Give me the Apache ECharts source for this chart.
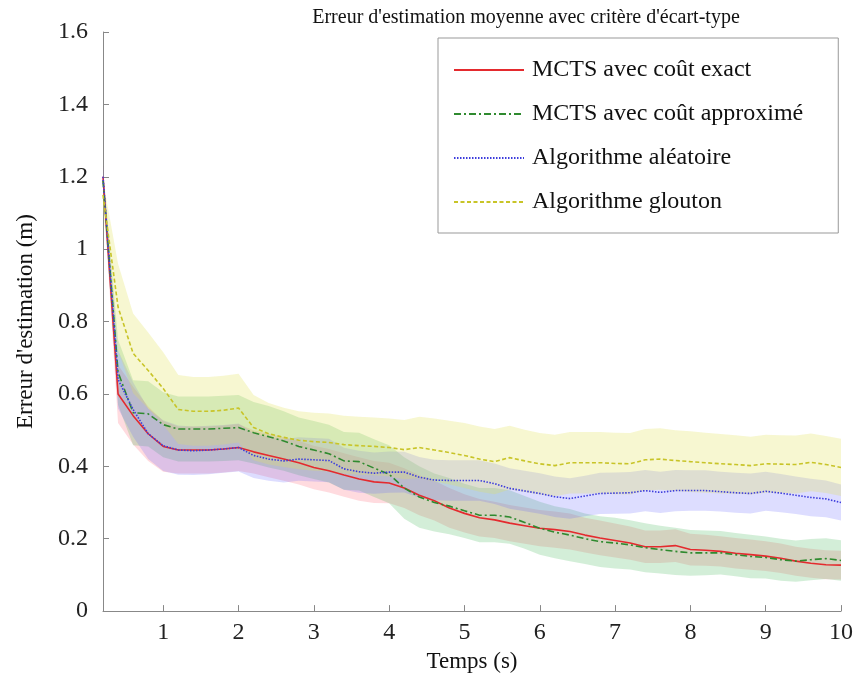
<!DOCTYPE html>
<html>
<head>
<meta charset="utf-8">
<script src="https://cdn.jsdelivr.net/npm/echarts@6/dist/echarts.min.js"></script>
<style>html,body{margin:0;padding:0;background:#fff}#c{width:856px;height:678px}</style>
</head>
<body>
<div id="c"></div>
<script>
const times = [0.2,0.4,0.6,0.8,1.0,1.2,1.4,1.6,1.8,2.0,2.2,2.4,2.6,2.8,3.0,3.2,3.4,3.6,3.8,4.0,4.2,4.4,4.6,4.8,5.0,5.2,5.4,5.6,5.8,6.0,6.2,6.4,6.6,6.8,7.0,7.2,7.4,7.6,7.8,8.0,8.2,8.4,8.6,8.8,9.0,9.2,9.4,9.6,9.8,10.0];
const xTicks = [1,2,3,4,5,6,7,8,9,10];
const names = ["MCTS avec coût exact","MCTS avec coût approximé","Algorithme aléatoire","Algorithme glouton"];

const meanExact = [1.20,0.60,0.54,0.49,0.455,0.445,0.445,0.445,0.448,0.452,0.44,0.43,0.42,0.41,0.397,0.388,0.376,0.365,0.357,0.354,0.34,0.32,0.305,0.285,0.27,0.258,0.252,0.243,0.236,0.229,0.225,0.22,0.21,0.202,0.195,0.188,0.178,0.178,0.181,0.17,0.168,0.165,0.16,0.156,0.152,0.146,0.138,0.132,0.128,0.127];
const meanApprox = [1.19,0.66,0.548,0.545,0.515,0.503,0.503,0.503,0.505,0.507,0.493,0.482,0.47,0.455,0.445,0.435,0.415,0.413,0.395,0.378,0.34,0.315,0.30,0.29,0.277,0.265,0.265,0.26,0.245,0.229,0.218,0.21,0.20,0.192,0.188,0.183,0.175,0.17,0.165,0.161,0.161,0.161,0.156,0.151,0.148,0.142,0.138,0.142,0.145,0.14];
const meanRandom = [1.20,0.64,0.557,0.49,0.457,0.445,0.443,0.445,0.448,0.452,0.43,0.42,0.415,0.42,0.418,0.416,0.393,0.385,0.381,0.384,0.384,0.37,0.362,0.361,0.361,0.361,0.352,0.339,0.332,0.325,0.316,0.311,0.318,0.325,0.326,0.327,0.333,0.328,0.333,0.333,0.333,0.33,0.327,0.325,0.331,0.326,0.32,0.314,0.31,0.30];
const meanGreedy = [1.15,0.84,0.712,0.665,0.615,0.557,0.552,0.552,0.555,0.561,0.507,0.49,0.48,0.472,0.468,0.466,0.46,0.457,0.455,0.452,0.446,0.452,0.445,0.438,0.43,0.42,0.413,0.424,0.415,0.407,0.402,0.41,0.41,0.41,0.408,0.407,0.418,0.42,0.416,0.413,0.41,0.407,0.405,0.402,0.407,0.406,0.405,0.411,0.405,0.397];

const stdExact = [0.03,0.08,0.08,0.075,0.07,0.065,0.065,0.065,0.065,0.065,0.06,0.06,0.06,0.06,0.06,0.06,0.06,0.06,0.058,0.056,0.055,0.055,0.055,0.055,0.053,0.052,0.05,0.05,0.05,0.05,0.05,0.05,0.048,0.048,0.047,0.046,0.045,0.045,0.045,0.044,0.043,0.042,0.042,0.042,0.041,0.041,0.04,0.04,0.04,0.04];
const stdApprox = [0.03,0.09,0.09,0.09,0.09,0.09,0.09,0.09,0.09,0.09,0.085,0.085,0.082,0.08,0.08,0.08,0.08,0.08,0.08,0.08,0.085,0.085,0.08,0.078,0.075,0.075,0.075,0.074,0.073,0.073,0.072,0.072,0.07,0.07,0.07,0.068,0.068,0.066,0.065,0.063,0.062,0.06,0.06,0.06,0.058,0.058,0.057,0.057,0.056,0.056];
const stdRandom = [0.03,0.08,0.075,0.07,0.07,0.068,0.067,0.067,0.066,0.066,0.062,0.06,0.06,0.06,0.06,0.06,0.058,0.058,0.057,0.057,0.056,0.056,0.056,0.056,0.056,0.056,0.056,0.056,0.056,0.056,0.056,0.056,0.056,0.057,0.057,0.057,0.057,0.057,0.057,0.056,0.056,0.055,0.055,0.055,0.054,0.053,0.052,0.052,0.051,0.05];
const stdGreedy = [0.04,0.12,0.11,0.105,0.1,0.095,0.095,0.095,0.095,0.095,0.09,0.085,0.082,0.08,0.08,0.08,0.08,0.08,0.08,0.08,0.082,0.085,0.087,0.088,0.09,0.09,0.09,0.088,0.086,0.085,0.085,0.085,0.085,0.085,0.085,0.085,0.085,0.085,0.084,0.084,0.083,0.082,0.081,0.08,0.08,0.08,0.08,0.08,0.079,0.079];

const means = [meanExact, meanApprox, meanRandom, meanGreedy];
const stds = [stdExact, stdApprox, stdRandom, stdGreedy];
const lineColors = ['#e42a2e','#2f8a2f','#3c3cdc','#c8c428'];
const bandColors = ['rgba(255,90,110,0.22)','rgba(70,185,90,0.24)','rgba(100,100,255,0.22)','rgba(225,225,90,0.28)'];
const lineTypes = ['solid',[7,3,2,3],[1.5,1.5],[4,2.5]];

const series = [];
means.forEach((m, i) => {
  const sd = stds[i];
  series.push({
    type: 'custom', name: 'band' + i, silent: true, z: 1, clip: true,
    data: [[times[0], m[0]]],
    encode: {x: 0, y: 1},
    renderItem: function (params, api) {
      const pts = [];
      for (let k = 0; k < times.length; k++) pts.push(api.coord([times[k], m[k] + sd[k]]));
      for (let k = times.length - 1; k >= 0; k--) pts.push(api.coord([times[k], m[k] - sd[k]]));
      return {type: 'polygon', shape: {points: pts}, style: {fill: bandColors[i]}};
    }
  });
});
means.forEach((m, i) => {
  series.push({
    type: 'line', name: names[i], symbol: 'none', z: 5,
    lineStyle: {color: lineColors[i], width: 1.6, type: lineTypes[i]},
    itemStyle: {color: lineColors[i]},
    data: times.map((t, k) => [t, m[k]])
  });
});

const font = 'Liberation Serif';
const chart = echarts.init(document.getElementById('c'));
chart.setOption({
  animation: false,
  backgroundColor: '#fff',
  title: {
    text: "Erreur d'estimation moyenne avec critère d'écart-type",
    left: 521, top: 3, textAlign: 'center',
    textStyle: {fontFamily: font, fontSize: 20, fontWeight: 'normal', color: '#111'}
  },
  legend: {
    data: names, orient: 'vertical', left: 438, top: 38,
    itemWidth: 70, itemHeight: 14, itemGap: 20,
    padding: [20, 35, 19, 15],
    itemStyle: {opacity: 0},
    borderColor: '#999', borderWidth: 1, backgroundColor: '#fff',
    textStyle: {fontFamily: font, fontSize: 24, color: '#111', lineHeight: 24, padding: [0,0,0,3]}
  },
  grid: {left: 103, right: 15, top: 32, bottom: 61, containLabel: false},
  xAxis: {
    type: 'value', min: 0.2, max: 10,
    name: 'Temps (s)', nameLocation: 'middle', nameGap: 31,
    nameTextStyle: {fontFamily: font, fontSize: 23, color: '#111'},
    axisLine: {lineStyle: {color: '#888'}},
    axisTick: {inside: true, length: 6, lineStyle: {color: '#888'}, customValues: xTicks},
    axisLabel: {fontFamily: font, fontSize: 24, color: '#222', margin: 10, customValues: xTicks},
    splitLine: {show: false}
  },
  yAxis: {
    type: 'value', min: 0, max: 1.6, interval: 0.2,
    name: "Erreur d'estimation (m)", nameLocation: 'middle', nameGap: 66,
    nameTextStyle: {fontFamily: font, fontSize: 23, color: '#111'},
    axisLine: {show: true, lineStyle: {color: '#888'}},
    axisTick: {show: true, inside: true, length: 6, lineStyle: {color: '#888'}},
    axisLabel: {fontFamily: font, fontSize: 24, color: '#222', margin: 15},
    splitLine: {show: false}
  },
  series: series
});
</script>
</body>
</html>
